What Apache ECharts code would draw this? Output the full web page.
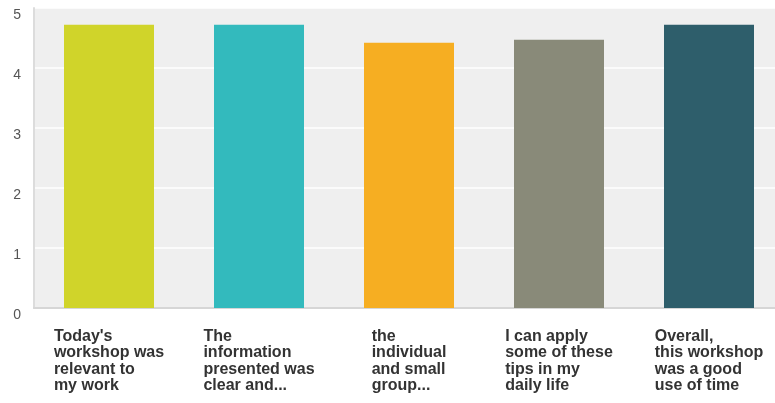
<!DOCTYPE html>
<html>
<head>
<meta charset="utf-8">
<script src="https://cdn.jsdelivr.net/npm/echarts@6/dist/echarts.min.js"></script>
<style>
  html, body { margin: 0; padding: 0; background: #fff; }
  #chart { width: 775px; height: 403px; }
</style>
</head>
<body>
<div id="chart"></div>
<script>
// survey statements (line breaks as in the picture)
var categories = [
  "Today's\nworkshop was\nrelevant to\nmy work",
  "The\ninformation\npresented was\nclear and...",
  "the\nindividual\nand small\ngroup...",
  "I can apply\nsome of these\ntips in my\ndaily life",
  "Overall,\nthis workshop\nwas a good\nuse of time"
];
var scores = [4.72, 4.72, 4.42, 4.47, 4.72];
var yTicks = [0, 1, 2, 3, 4, 5];

var barColors = ["#d0d42a", "#33babd", "#f6ae22", "#898a79", "#2e5e6b"];

var chart = echarts.init(document.getElementById("chart"));
var option = {
  animation: false,
  grid: {
    left: 34,
    right: -9,
    top: 8,
    bottom: 95,
    outerBoundsMode: "none",
    show: true,
    backgroundColor: "#efefef",
    borderWidth: 0
  },
  xAxis: {
    type: "category",
    data: categories,
    axisTick: { show: false },
    axisLine: { show: true, lineStyle: { color: "#d6d6d6", width: 2 } },
    axisLabel: {
      interval: 0,
      margin: 20,
      formatter: function (v) {
        return v.split("\n").map(function (l) { return "{a|" + l + "}"; }).join("\n");
      },
      rich: {
        a: {
          align: "left",
          fontFamily: "Liberation Sans",
          fontWeight: "bold",
          fontSize: 16,
          lineHeight: 16.5,
          color: "#333"
        }
      }
    }
  },
  yAxis: {
    type: "value",
    min: yTicks[0],
    max: yTicks[yTicks.length - 1],
    interval: 1,
    axisLine: { show: true, lineStyle: { color: "#dcdcdc", width: 2 } },
    axisTick: { show: false },
    axisLabel: {
      margin: 13,
      verticalAlign: "top",
      fontFamily: "Liberation Sans",
      fontSize: 14,
      color: "#555"
    },
    splitLine: { show: true, lineStyle: { color: "#ffffff", width: 1.5 } }
  },
  series: [{
    type: "bar",
    barWidth: "60%",
    data: scores.map(function (v, i) {
      return { value: v, itemStyle: { color: barColors[i] } };
    })
  }]
};
chart.setOption(option);
</script>
</body>
</html>
